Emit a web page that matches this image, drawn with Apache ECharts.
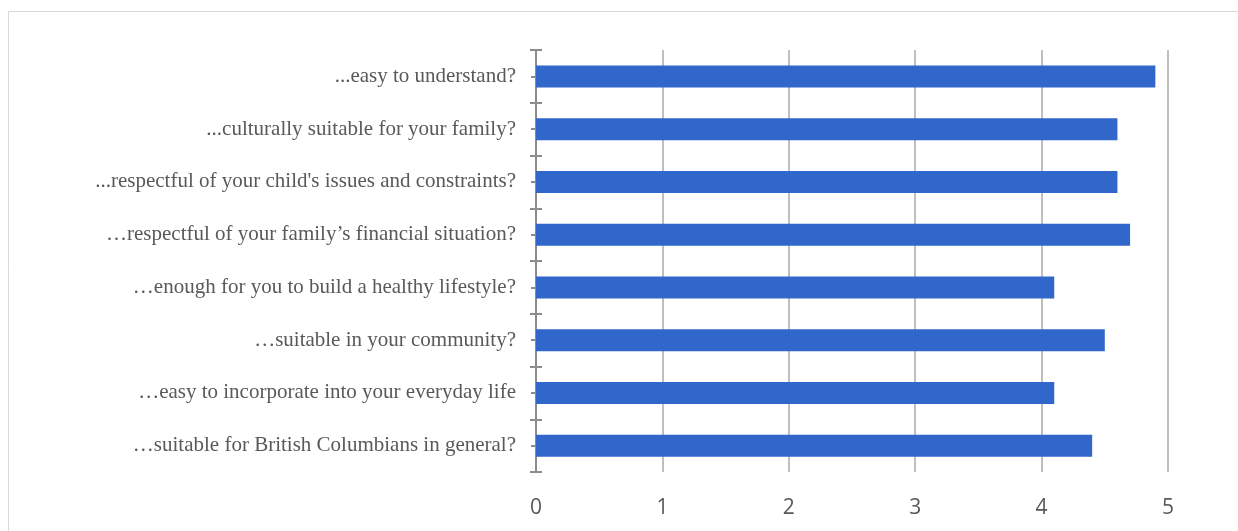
<!DOCTYPE html>
<html>
<head>
<meta charset="utf-8">
<script src="https://cdn.jsdelivr.net/npm/echarts@6/dist/echarts.min.js"></script>
<style>
  html, body { margin: 0; padding: 0; background: #fff; }
  #chart { width: 1238px; height: 531px; }
</style>
</head>
<body>
<div id="chart"></div>
<script>
// Survey items, listed top to bottom
const categories = [
  '...easy to understand?',
  '...culturally suitable for your family?',
  "...respectful of your child's issues and constraints?",
  '\u2026respectful of your family\u2019s financial situation?',
  '\u2026enough for you to build a healthy lifestyle?',
  '\u2026suitable in your community?',
  '\u2026easy to incorporate into your everyday life',
  '\u2026suitable for British Columbians in general?'
];
// Average rating per item
const ratings = [4.9, 4.6, 4.6, 4.7, 4.1, 4.5, 4.1, 4.4];
const xTicks = [0, 1, 2, 3, 4, 5];

const axisGray = '#8c8c8c';
const textGray = '#595959';

const chart = echarts.init(document.getElementById('chart'), null, { renderer: 'canvas' });

const baseY = {
  type: 'category',
  data: categories,
  inverse: true,
  position: 'left',
  axisLine: { show: true, lineStyle: { color: axisGray, width: 2 } },
  splitLine: { show: false }
};

chart.setOption({
  animation: false,
  backgroundColor: '#ffffff',
  graphic: [{
    type: 'rect',
    shape: { x: 8.5, y: 11.5, width: 1400, height: 700 },
    style: { fill: 'none', stroke: '#d9d9d9', lineWidth: 1 },
    silent: true,
    z: -10
  }],
  grid: { left: 536, right: 70, top: 50, bottom: 59, containLabel: false },
  xAxis: {
    type: 'value',
    min: xTicks[0],
    max: xTicks[xTicks.length - 1],
    interval: 1,
    axisLine: { show: false },
    axisTick: { show: false },
    axisLabel: {
      margin: 26,
      color: textGray,
      fontFamily: 'Open Sans',
      fontSize: 21
    },
    splitLine: { show: true, lineStyle: { color: '#bfbfbf', width: 2 } }
  },
  yAxis: [
    // main axis: labels plus outward ticks at category boundaries
    Object.assign({}, baseY, {
      axisTick: { show: true, length: 6, lineStyle: { color: axisGray, width: 2 } },
      axisLabel: {
        margin: 20,
        color: textGray,
        fontFamily: 'Liberation Serif',
        fontSize: 21
      }
    }),
    // inward half of the boundary ticks
    Object.assign({}, baseY, {
      axisTick: { show: true, inside: true, length: 6, lineStyle: { color: axisGray, width: 2 } },
      axisLabel: { show: false }
    }),
    // short ticks at category centres
    Object.assign({}, baseY, {
      axisTick: { show: true, alignWithLabel: true, length: 5, lineStyle: { color: axisGray, width: 2 } },
      axisLabel: { show: false }
    })
  ],
  series: [{
    type: 'bar',
    data: ratings,
    yAxisIndex: 0,
    barWidth: 22,
    itemStyle: { color: '#3166cb' },
    z: 1
  }]
});
</script>
</body>
</html>
